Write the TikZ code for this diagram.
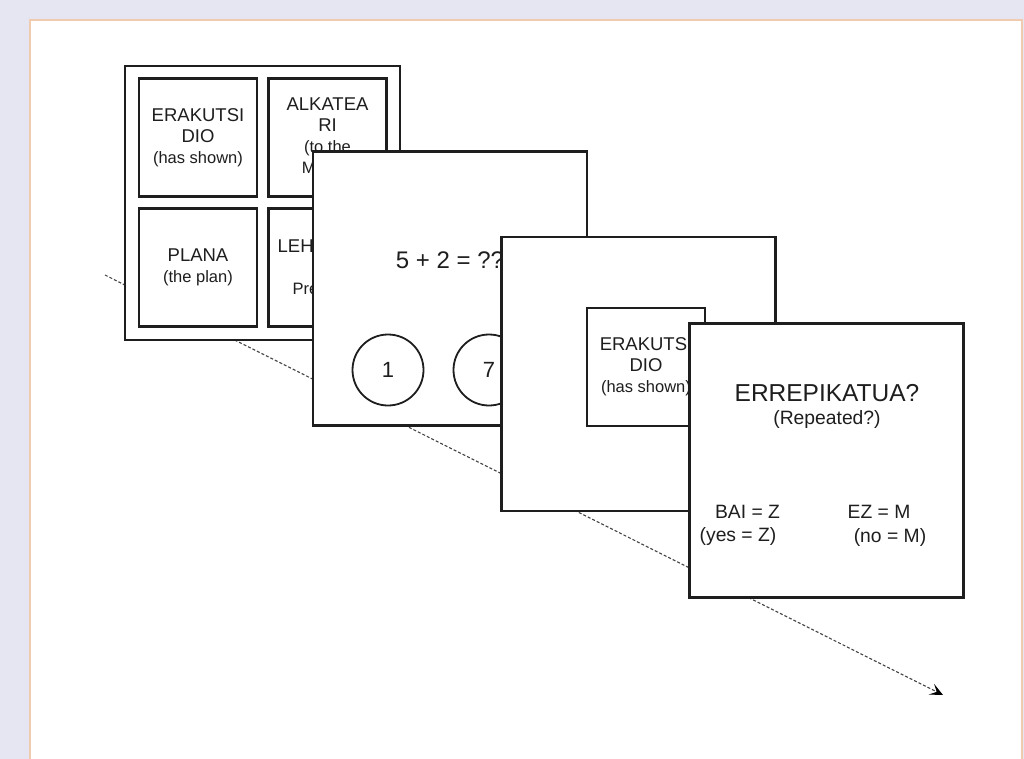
\documentclass[tikz,border=0pt]{standalone}
\usepackage{fontspec}
\setmainfont{Liberation Sans}
\usepackage{xcolor}
\usepackage{tikz}
\usetikzlibrary{arrows.meta, positioning}
\definecolor{lavanda}{HTML}{E6E6F2}
\definecolor{melocoton}{HTML}{F0CBB0}
\definecolor{grisflecha}{HTML}{444444}
\definecolor{tinta}{HTML}{1E1E1E}
\newcommand{\textogrande}{\fontsize{18.5}{21}\selectfont}
\newcommand{\textochico}{\fontsize{16.5}{21}\selectfont}
\tikzset{
  every picture/.style={x=1pt, y=-1pt},
  tarjeta/.style={draw=tinta, fill=white, line width=2.4pt, minimum width=274pt, minimum height=274pt, inner sep=0pt},
  celda/.style={draw=tinta, fill=white, line width=2.4pt, minimum width=118pt, minimum height=118pt,
                inner sep=0pt, align=center, text=tinta, font=\textogrande},
  opcion/.style={draw=tinta, circle, line width=1.8pt, minimum size=71pt, inner sep=0pt,
                 text=tinta, font=\fontsize{22}{26}\selectfont},
  rotulo/.style={inner sep=0pt, text=tinta, font=\fontsize{19.3}{22}\selectfont},
  tiempo/.style={draw=grisflecha, line width=1.1pt, dash pattern=on 3pt off 2pt,
                 -{Stealth[color=black, length=13pt, width=12pt, inset=6pt]}},
}

\begin{document}
\begin{tikzpicture}
  \useasboundingbox (0,0) rectangle (1024,759);
  \fill[lavanda] (0,0) rectangle (1024,759);
  \draw[melocoton, fill=white, line width=1.5pt] (30,780) -- (30,20) -- (1022,20) -- (1022,780);

  % linea de tiempo
  \coordinate (inicio) at (105,275);
  \coordinate (fin) at (943,695);
  \draw[tiempo] (inicio) -- (fin);

  % pantalla 1: cuadricula de palabras
  \node[tarjeta, minimum width=275pt] (marco) at (262.5,203) {};
  \node[celda] (c1) at (198,137.5) {ERAKUTSI\\DIO\\{\textochico (has shown)}};
  \node[celda] (c2) at (327.5,137.5) {ALKATEA\\RI\\{\textochico (to the}\\{\textochico Mayor)}};
  \node[celda] (c3) at (198,267.5) {PLANA\\{\textochico (the plan)}};
  \node[celda] (c4) at (327.5,267.5) {LEHENDAK\\ARI\\{\textochico President}};

  % pantalla 2: suma
  \node[tarjeta] (suma) at (450,288.5) {};
  \node[inner sep=0pt, text=tinta, font=\fontsize{24}{28}\selectfont] (pregunta) at (450,260) {5 + 2 = ??};
  \node[opcion] (uno) at (388,370) {1};
  \node[opcion] (siete) at (489,370) {7};

  % pantalla 3: palabra de prueba
  \node[tarjeta] (prueba) at (638.5,374) {};
  \node[celda] (palabra) at (646,367) {ERAKUTSI\\DIO\\{\textochico (has shown)}};

  % pantalla 4: respuesta
  \node[tarjeta] (resp) at (826.5,460.5) {};
  \node[inner sep=0pt, text=tinta, font=\fontsize{24.5}{28}\selectfont] (titulo) at (827,393) {ERREPIKATUA?};
  \node[rotulo] (sub) at (827,420) {(Repeated?)};
  \node[rotulo] (bai) at (747.5,512) {BAI = Z};
  \node[rotulo] (baien) at (738,537) {(yes = Z)};
  \node[rotulo] (ez) at (879,512) {EZ = M};
  \node[rotulo] (ezen) at (890,537) {(no = M)};
\end{tikzpicture}
\end{document}
